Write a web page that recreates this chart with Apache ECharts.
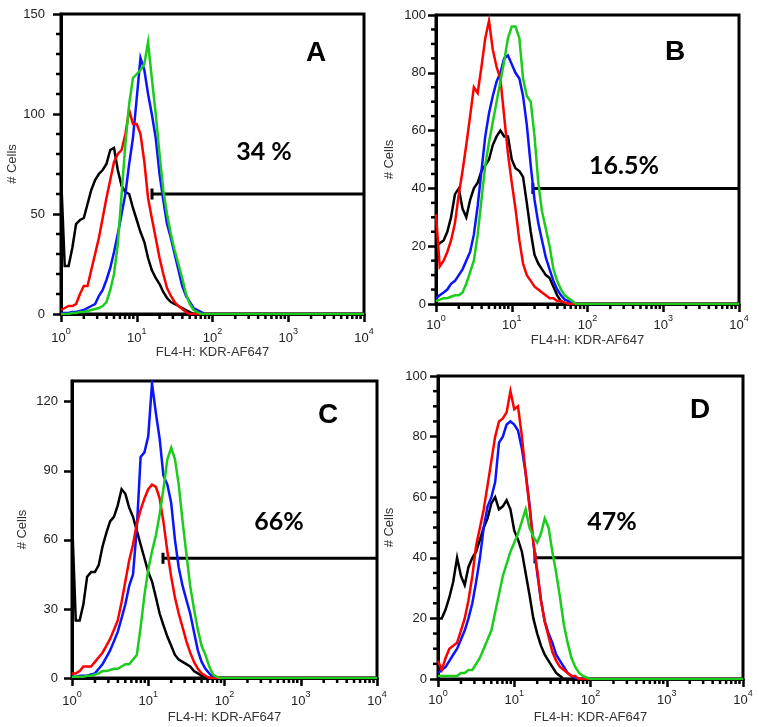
<!DOCTYPE html>
<html><head><meta charset="utf-8">
<script src="https://cdn.jsdelivr.net/npm/echarts@6/dist/echarts.min.js"></script>
<style>html,body{margin:0;padding:0;background:#fff}#c{width:759px;height:727px}</style>
</head><body><div id="c"></div>
<script>
// fluorescence channel positions (FL4-H), shared by all histograms
const channels = [1.00,1.12,1.26,1.41,1.58,1.78,2.00,2.24,2.51,2.82,3.16,3.55,3.98,4.47,5.01,5.62,6.31,7.08,7.94,8.91,
  10.0,11.2,12.6,14.1,15.8,17.8,20.0,22.4,25.1,28.2,31.6,35.5,39.8,44.7,50.1,56.2,63.1,70.8,79.4,89.1,100,10000];

// Panel A
const blackA = [70,24,24,33,45,47,48,55,62,67, 70,72,75,82,83,72,64,61,60,53, 47,41,36,28,22,18,15,11,8,6, 5,4,3,2,1,0,0,0,0,0, 0,0];
const redA   = [2,3,4,4,5,10,14,14,22,30, 38,48,58,67,76,80,82,90,102,95, 95,90,76,58,48,38,28,20,13,9, 6,4,2.5,1,0,0,0,0,0,0, 0,0];
const blueA  = [0.5,0.5,0.5,1,1,1.5,2,3,4,5, 9,12,17,23,31,40,50,60,75,88, 108,128,122,110,100,88,70,57,45,38, 30,22,14,9,6,3,2,1,0,0, 0,0];
const greenA = [0,0,0,0.5,0.5,1,1,1.5,2,2.5, 3,4,6,12,20,35,60,85,105,118, 120,122,125,136,118,100,80,62,50,40, 32,25,18,10,5,2,1,0,0,0, 0,0];
// Panel B
const blackB = [20,21,22,25,30,38,40,33,30,36, 40,42,46,48,50,55,58,60,58,58, 50,47,46,44,35,25,17,14,12,10, 9,6,3,1,0,0,0,0,0,0, 0,0];
const redB   = [31,13,15,18,22,28,38,46,55,65, 75,73,82,92,98,88,82,78,65,52, 42,33,22,14,10,8,6,5,4,3, 2,2,1,1,0.5,0,0,0,0,0, 0,0];
const blueB  = [2,3,4,5,7,8,10,12,15,18, 24,34,46,58,66,72,77,80,85,86, 83,80,78,72,62,48,36,28,22,16, 12,8,5,3,1.5,1,0,0,0,0, 0,0];
const greenB = [1,1.5,2,2,2.5,3,3,4,7,11, 15,24,36,48,56,63,70,77,84,92, 96,96,92,78,72,70,58,42,32,26, 20,12,8,5,3,2,1,0,0,0, 0,0];
// Panel C
const blackC = [70,25,25,32,44,46,46,49,57,63, 68,70,75,82,80,74,70,64,58,52, 46,42,35,28,23,18,14,10,8,7, 6,5,3,2,1,0,0,0,0,0, 0,0];
const redC   = [2,2,3,5,5,5,7,9,11,14, 17,21,25,33,42,51,58,67,73,78, 82,84,83,78,68,55,44,35,28,22, 16,11,7,4,2,1,0,0,0,0, 0,0];
const blueC  = [0.5,0.5,1,1,1,1.5,2,4,6,9, 12,16,20,26,32,40,45,65,96,98, 105,128,115,104,88,84,76,60,48,40, 34,28,20,12,7,4,2,0.5,0,0, 0,0];
const greenC = [0.5,0.5,0.5,0.5,1,1,1.5,2,3,3, 3.5,4,4,5,6,6,8,10,22,36, 47,55,62,71,82,95,100,95,84,68, 54,40,30,21,14,10,5,1.5,0.5,0, 0,0];
// Panel D
const blackD = [20,20,23,27,32,40,34,31,37,40, 42,46,50,53,58,60,56,57,59,56, 49,46,42,35,28,20,15,11,8,6, 4,2,1,0,0,0,0,0,0,0, 0,0];
const redD   = [6,3,7,10,11,12,16,20,26,34, 44,50,56,64,72,80,85,86,88,95, 89,90,80,68,57,45,36,26,19,14, 9,6,4,3,2,1,1,0,0,0, 0,0];
const blueD  = [2,3,4,6,8,10,13,16,20,25, 32,40,50,57,60,65,78,80,84,85, 84,82,76,68,58,45,35,26,19,15, 12,8,6,4,2,1,0.5,0,0,0, 0,0];
const greenD = [1,1,1,1,1,1,2,2,3,3, 5,7,10,13,16,22,28,34,38,42, 45,48,52,56,50,47,45,48,53,50, 42,35,27,18,12,7,4,2,1,0.5, 0,0];

const panelLetters = ['A','B','C','D'];
const percentLabels = ['34 %','16.5%','66%','47%'];
const gateStart = [15.9, 19.0, 15.6, 18.7];
const gateLevel = [60, 40, 52, 40];
const gateEnd = 10000;
const yMax = [150, 100, 129, 100];
const yInterval = [50, 20, 30, 20];
const xTickExponents = [0, 1, 2, 3, 4];
const xAxisTitle = 'FL4-H: KDR-AF647';
const yAxisTitle = '# Cells';

const histos = [
  [blackA, blueA, redA, greenA],
  [blackB, blueB, redB, greenB],
  [blackC, blueC, redC, greenC],
  [blackD, blueD, redD, greenD]
];
const colors = ['#000000', '#0a14ff', '#ff0000', '#1ccc1c'];

// layout (pixels)
const boxes = [
  {left: 61, top: 14, width: 303, height: 300},
  {left: 436, top: 15, width: 303, height: 289},
  {left: 72, top: 381, width: 305, height: 297},
  {left: 438, top: 376, width: 305, height: 303}
];
const yMinorSplit = [5, 4, 0, 4];
const yLabelMargin = [16, 10, 14, 11];
const xLabelMargin = [13, 10, 12, 10];
const xNameGap = [31, 30, 33, 32];
const yNameGap = [42, 40, 43, 42];
const letterPos = [[316, 53], [675, 52], [328, 415], [700, 410]];
const pctPos = [[264, 152], [624, 166], [279, 522], [612, 522]];

const grid = [], xAxis = [], yAxis = [], series = [], graphic = [];
const labelRich = {
  b: {fontSize: 13, lineHeight: 18, verticalAlign: 'bottom', color: '#222', fontFamily: 'Liberation Sans, Arial'},
  s: {fontSize: 9, lineHeight: 10, verticalAlign: 'top', color: '#222', fontFamily: 'Liberation Sans, Arial'}
};
for (let p = 0; p < 4; p++) {
  grid.push(Object.assign({show: true, borderColor: '#000', borderWidth: 3, backgroundColor: 'transparent', containLabel: false}, boxes[p]));
  xAxis.push({
    type: 'value', gridIndex: p, min: 0, max: 4, interval: 1, position: 'bottom',
    axisLine: {show: true, lineStyle: {color: '#000', width: 3}},
    axisTick: {show: true, length: 8, lineStyle: {color: '#000', width: 2.5}},
    splitLine: {show: false},
    axisLabel: {margin: xLabelMargin[p], formatter: v => xTickExponents.indexOf(v) >= 0 ? '{b|10}{s|' + v + '}' : '', rich: labelRich},
    name: xAxisTitle, nameLocation: 'middle', nameGap: xNameGap[p],
    nameTextStyle: {fontSize: 13, color: '#333', fontFamily: 'Liberation Sans, Arial'}
  });
  yAxis.push({
    type: 'value', gridIndex: p, min: 0, max: yMax[p], interval: yInterval[p],
    axisLine: {show: true, lineStyle: {color: '#000', width: 3}},
    axisTick: {show: true, length: 8, lineStyle: {color: '#000', width: 2.5}},
    splitLine: {show: false},
    axisLabel: {margin: yLabelMargin[p], fontSize: 13, color: '#222', fontFamily: 'Liberation Sans, Arial',
      showMaxLabel: yMax[p] % yInterval[p] === 0},
    name: yAxisTitle, nameLocation: 'middle', nameGap: yNameGap[p],
    nameTextStyle: {fontSize: 13, color: '#333', fontFamily: 'Liberation Sans, Arial'}
  });
  // gate marker
  series.push({
    type: 'line', xAxisIndex: p, yAxisIndex: p, z: 2, silent: true,
    data: [
      {value: [Math.log10(gateStart[p]), gateLevel[p]], symbol: 'rect', symbolSize: [3, 11]},
      {value: [Math.log10(gateEnd), gateLevel[p]], symbol: 'none'}
    ],
    showSymbol: true, itemStyle: {color: '#000'}, lineStyle: {color: '#000', width: 3}
  });
  histos[p].forEach((vals, i) => {
    series.push({
      type: 'line', xAxisIndex: p, yAxisIndex: p, z: 3 + i, symbol: 'none', silent: true,
      data: channels.map((c, j) => [Math.log10(c), vals[j]]),
      lineStyle: {color: colors[i], width: 2.5, join: 'miter'}
    });
  });
  graphic.push({type: 'text', x: letterPos[p][0], y: letterPos[p][1], z: 10,
    style: {text: panelLetters[p], fill: '#000', font: 'bold 28px "Liberation Sans", Arial', align: 'center', verticalAlign: 'middle'}});
  graphic.push({type: 'text', x: pctPos[p][0], y: pctPos[p][1], z: 10,
    style: {text: percentLabels[p], fill: '#000', font: 'bold 25px Lato, "Open Sans", sans-serif', align: 'center', verticalAlign: 'middle'}});
}

const chart = echarts.init(document.getElementById('c'), null, {renderer: 'canvas'});
chart.setOption({animation: false, backgroundColor: '#fff', grid, xAxis, yAxis, series});

// minor ticks placed through the axes' own scales
for (let p = 0; p < 4; p++) {
  const finder = {xAxisIndex: p, yAxisIndex: p};
  for (let d = 0; d < 4; d++) {
    for (let k = 2; k <= 9; k++) {
      const pt = chart.convertToPixel(finder, [Math.log10(k * Math.pow(10, d)), 0]);
      graphic.push({type: 'line', z: 5, silent: true,
        shape: {x1: pt[0], y1: pt[1], x2: pt[0], y2: pt[1] + 5},
        style: {stroke: '#000', lineWidth: 2.5}});
    }
  }
  if (yMinorSplit[p] > 0) {
    const step = yInterval[p] / yMinorSplit[p];
    for (let v = step; v < yMax[p]; v += step) {
      if (Math.abs(v / yInterval[p] - Math.round(v / yInterval[p])) < 1e-6) continue;
      const pt = chart.convertToPixel(finder, [0, v]);
      graphic.push({type: 'line', z: 5, silent: true,
        shape: {x1: pt[0] - 5, y1: pt[1], x2: pt[0], y2: pt[1]},
        style: {stroke: '#000', lineWidth: 2.5}});
    }
  }
}
chart.setOption({graphic});
</script>
</body></html>
